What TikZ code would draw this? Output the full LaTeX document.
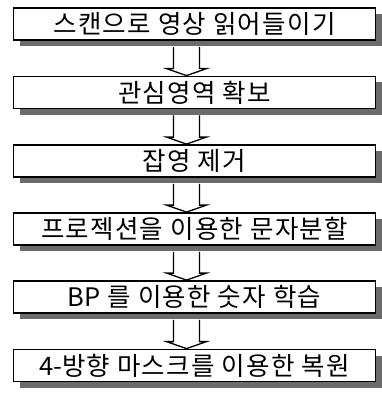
\documentclass[tikz,border=0pt]{standalone}
\usepackage{fontspec}
\newfontfamily\kr[LetterSpace=5]{Noto Sans CJK KR}
\newfontfamily\krplain{Noto Sans CJK KR}
\usetikzlibrary{shadows,calc}
\tikzset{
  stepbox/.style={draw=black, line width=1.8pt, fill=white, minimum width=362pt, minimum height=32pt,
    inner sep=0pt, font=\kr\fontsize{25.5}{25.5}\selectfont,
    general shadow={fill=black!58, shadow xshift=6pt, shadow yshift=-6pt}},
  flowarrow/.style={draw=black, line width=1.3pt, fill=white, line join=miter}
}
\newcommand{\blockarrow}[2]{%
  \draw[flowarrow] ($(#1.south)+(-21,6)$) -- ($(#2.north)+(-21,-7)$) -- ($(#2.north)+(-28,-7)$)
    -- ($(#2.north)+(-8,0)$) -- ($(#2.north)+(12,-7)$) -- ($(#2.north)+(5,-7)$) -- ($(#1.south)+(5,6)$);}
\begin{document}
\begin{tikzpicture}[x=1pt,y=-1pt]
\useasboundingbox (0,0) rectangle (382,409);
\node[stepbox] (b1) at (194.5,24) {스캔으로 영상 읽어들이기};
\node[stepbox] (b2) at (194.5,92.5) {관심영역 확보};
\node[stepbox] (b3) at (194.5,161) {잡영 제거};
\node[stepbox] (b4) at (194.5,229) {프로젝션을 이용한 문자분할};
\node[stepbox] (b5) at (194.5,297) {{\krplain BP} 를 이용한 숫자 학습};
\node[stepbox] (b6) at (194.5,365.5) {{\krplain 4-}방향 마스크를 이용한 복원};
\blockarrow{b1}{b2}
\blockarrow{b2}{b3}
\blockarrow{b3}{b4}
\blockarrow{b4}{b5}
\blockarrow{b5}{b6}
\end{tikzpicture}
\end{document}
